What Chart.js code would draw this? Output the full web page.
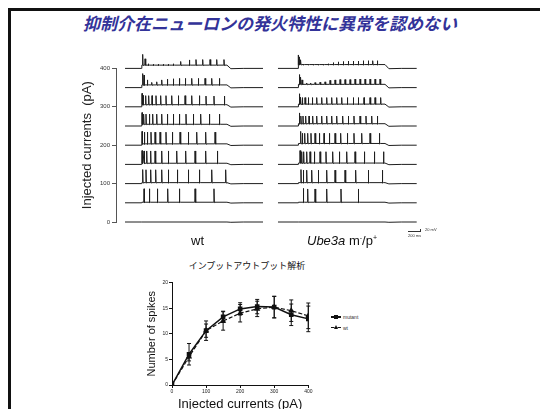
<!DOCTYPE html>
<html>
<head>
<meta charset="utf-8">
<script src="https://cdn.jsdelivr.net/npm/chart.js@4.4.1/dist/chart.umd.min.js"></script>
<style>
  body { margin: 0; width: 540px; height: 409px; overflow: hidden; position: relative; background: #fff; font-family: "Liberation Sans", Arial, sans-serif; }
  .frame { position: absolute; left: 8px; top: 8px; width: 600px; height: 500px; border-top: 3px solid #111; border-left: 3px solid #111; }
  .title { position: absolute; left: 0; top: 10px; width: 540px; text-align: center; line-height: 20px; font: italic bold 17px "Noto Sans CJK JP", sans-serif; color: #333399; }
  canvas { position: absolute; }
  #traces { left: 60px; top: 45px; }
  #io { left: 130px; top: 276px; }
  .lbl { position: absolute; color: #111; white-space: nowrap; }
  .sub { position: absolute; font: 9px "Noto Sans CJK JP", sans-serif; color: #111; }
  .tiny { position: absolute; font-size: 4px; color: #333; white-space: nowrap; }
  .bar { position: absolute; background: #333; }
</style>
</head>
<body>
<div class="frame"></div>
<div class="title">抑制介在ニューロンの発火特性に異常を認めない</div>

<canvas id="traces" width="370" height="190"></canvas>

<div class="lbl" style="left:191px;top:233px;font-size:13px;">wt</div>
<div class="lbl" style="left:307px;top:233px;font-size:13px;"><i>Ube3a</i> m<sup style="font-size:7px">-</sup>/p<sup style="font-size:7px">+</sup></div>

<div class="bar" style="left:408px;top:231px;width:13px;height:1px;"></div>
<div class="bar" style="left:420px;top:229px;width:1px;height:3px;"></div>
<div class="tiny" style="left:425px;top:227px;">20 mV</div>
<div class="tiny" style="left:408px;top:233px;">200 ms</div>

<div class="sub" style="left:0;width:494px;top:259px;text-align:center;">インプットアウトプット解析</div>

<canvas id="io" width="190" height="140"></canvas>

<div class="bar" style="left:331px;top:316px;width:10px;height:1.5px;background:#111"></div>
<div class="bar" style="left:334px;top:315px;width:3.5px;height:3.5px;background:#111"></div>
<div class="tiny" style="left:343px;top:314px;font-size:5px;">mutant</div>
<div class="bar" style="left:331px;top:327px;width:10px;height:0;background:none;border-top:1px dashed #111"></div>
<div style="position:absolute;left:334px;top:325px;width:0;height:0;border-left:2px solid transparent;border-right:2px solid transparent;border-bottom:4px solid #111"></div>
<div class="tiny" style="left:343px;top:325px;font-size:5px;">wt</div>

<script>
// ---- traces: current steps and spike times (ms) ----
const currentSteps = [0, 50, 100, 150, 200, 250, 300, 350, 400];
const traceTicks = [0, 100, 200, 300, 400];

// panel 0 = wt, panel 1 = Ube3a m-/p+
const panelOffsetMs = [0, 2356];
const sweepMs = [2125, 2136];
const stepOnMs = [257, 313];
const stepOffMs = [1570, 1648];

// plateau depolarisation during the step (mV), one per current step
const wtPlateau = [0, 3, 5, 6, 7, 9, 11, 14, 17];
const mutPlateau = [0, 3, 5, 7, 9, 12, 14, 17, 20];

// [time ms, peak above rest mV]
const wtSpikes = [
  [],
  [[293,73],[375,73],[498,73],[657,73],[837,73],[1078,73],[1370,73]],
  [[272,73],[323,72],[395,72],[472,72],[565,72],[667,72],[806,72],[975,72],[1145,72],[1335,72],[1550,72]],
  [[262,72],[293,70],[334,70],[395,70],[462,70],[565,70],[667,70],[796,70],[934,70],[1078,70],[1242,70],[1422,70]],
  [[262,72],[298,68],[344,68],[400,68],[462,68],[539,68],[631,68],[729,68],[847,68],[975,68],[1104,68],[1242,68],[1386,68]],
  [[262,70],[288,62],[323,62],[375,62],[426,62],[488,62],[565,62],[652,62],[744,62],[837,62],[939,62],[1052,62],[1165,62],[1299,62],[1453,62]],
  [[262,70],[282,60],[318,58],[364,58],[416,58],[477,58],[549,58],[631,58],[719,58],[821,58],[924,58],[1027,58],[1145,58],[1247,56],[1370,56],[1530,56]],
  [[272,73],[293,65],[344,40],[411,27],[488,30],[565,40],[652,44],[744,46],[837,48],[929,48],[1027,48],[1129,48],[1232,48],[1335,48],[1453,48]],
  [[272,73],[308,50],[359,24],[436,22],[513,22],[590,22],[667,22],[744,24],[857,36],[991,44],[1093,46],[1196,46],[1309,46],[1412,46],[1524,46]]
];

const mutSpikes = [
  [],
  [[390,75],[457,72],[570,72],[750,72],[970,72],[1237,72]],
  [[354,73],[390,70],[442,70],[519,70],[621,70],[750,70],[878,70],[1032,70],[1196,70],[1391,70],[1607,70]],
  [[339,72],[365,66],[395,66],[442,66],[493,66],[560,66],[647,66],[739,66],[842,66],[945,66],[1058,66],[1186,66],[1330,66],[1484,66],[1625,66]],
  [[349,72],[375,62],[411,62],[457,62],[508,62],[570,62],[637,62],[709,62],[791,62],[878,62],[965,62],[1068,62],[1170,62],[1289,62],[1417,62],[1561,62]],
  [[329,68],[354,52],[385,52],[426,52],[478,52],[534,52],[596,52],[673,52],[750,52],[827,52],[904,52],[996,52],[1083,52],[1170,52],[1263,52],[1355,52],[1443,52],[1530,52]],
  [[329,68],[349,50],[375,48],[416,48],[467,48],[529,48],[596,48],[673,48],[750,48],[827,48],[904,48],[981,48],[1068,48],[1160,48],[1237,48],[1325,48],[1417,48],[1494,48],[1581,48]],
  [[329,68],[349,55],[370,40],[442,24],[503,24],[570,26],[647,28],[724,30],[801,38],[878,40],[955,42],[1032,42],[1109,42],[1186,44],[1263,44],[1340,44],[1417,44],[1494,44],[1571,44]],
  [[313,70],[329,60],[349,45],[390,22],[467,22],[544,22],[621,22],[698,22],[775,24],[852,30],[929,34],[1006,36],[1083,38],[1160,38],[1237,38],[1314,40],[1391,40],[1458,40],[1530,40]]
];

// ---- input-output analysis ----
const inputCurrents = [0, 50, 100, 150, 200, 250, 300, 350, 400];
const mutantMean = [0, 6.0, 10.6, 13.3, 14.85, 15.3, 15.2, 13.7, 12.9];
const mutantErr = [0, 2.1, 1.9, 1.1, 1.2, 1.4, 2.1, 2.1, 2.5];
const wtMean = [0, 5.5, 10.6, 12.5, 14.0, 14.85, 15.2, 14.5, 13.5];
const wtErr = [0, 0.8, 1.3, 1.8, 1.7, 1.5, 2.1, 2.1, 2.5];
const ioXTicks = [0, 100, 200, 300, 400];
const ioYTicks = [0, 5, 10, 15, 20];

const MV_TO_PA = 0.5; // vertical size of a mV on the stacked-trace axis

function sweep(level, plateau, spikes, p) {
  const x0 = panelOffsetMs[p], on = stepOnMs[p], off = stepOffMs[p], end = sweepMs[p];
  const top = level + plateau * MV_TO_PA;
  const pts = [{x: x0, y: level}, {x: x0 + on, y: level}, {x: x0 + on + 2, y: top}];
  spikes.forEach(([t, a]) => {
    pts.push({x: x0 + t - 4, y: top});
    pts.push({x: x0 + t, y: level + a * MV_TO_PA});
    pts.push({x: x0 + t + 6, y: top - 2 * MV_TO_PA});
    pts.push({x: x0 + t + 15, y: top});
  });
  pts.push({x: x0 + off, y: top});
  pts.push({x: x0 + off + 60, y: level - 1.5 * MV_TO_PA});
  pts.push({x: x0 + off + 250, y: level});
  pts.push({x: x0 + end, y: level});
  return pts;
}

const traceSets = [];
currentSteps.forEach((c, i) => {
  traceSets.push({data: sweep(c, wtPlateau[i], wtSpikes[i], 0), borderColor: '#1e1e1e', borderWidth: 1, clip: false});
  traceSets.push({data: sweep(c, mutPlateau[i], mutSpikes[i], 1), borderColor: '#1e1e1e', borderWidth: 1, clip: false});
});

new Chart(document.getElementById('traces'), {
  type: 'line',
  data: {datasets: traceSets},
  options: {
    responsive: false,
    animation: false,
    layout: {padding: {top: 23.4, right: 10, bottom: 13, left: 0}},
    plugins: {legend: {display: false}, tooltip: {enabled: false}},
    elements: {point: {radius: 0}, line: {tension: 0}},
    scales: {
      x: {type: 'linear', display: false, min: -139, max: 4543},
      y: {
        min: 0, max: 400,
        afterBuildTicks: s => { s.ticks = traceTicks.map(v => ({value: v})); },
        afterFit: s => { s.width = 56; },
        grid: {drawOnChartArea: false, tickLength: 4, color: '#555'},
        border: {color: '#555'},
        ticks: {font: {size: 6}, color: '#333', padding: 2},
        title: {display: true, text: 'Injected currents  (pA)', font: {size: 13}, color: '#222', padding: {top: 19.5, bottom: 0}}
      }
    }
  }
});

const errorBars = {
  id: 'errorBars',
  afterDatasetsDraw(chart) {
    const {ctx} = chart;
    const y = chart.scales.y;
    ctx.save();
    ctx.strokeStyle = '#111';
    ctx.lineWidth = 1;
    chart.data.datasets.forEach((ds, di) => {
      chart.getDatasetMeta(di).data.forEach((pt, i) => {
        const e = ds.errors[i];
        if (!e) return;
        const v = ds.data[i].y;
        const t = y.getPixelForValue(v + e), b = y.getPixelForValue(v - e);
        ctx.beginPath();
        ctx.moveTo(pt.x, t); ctx.lineTo(pt.x, b);
        ctx.moveTo(pt.x - 2, t); ctx.lineTo(pt.x + 2, t);
        ctx.moveTo(pt.x - 2, b); ctx.lineTo(pt.x + 2, b);
        ctx.stroke();
      });
    });
    ctx.restore();
  }
};

new Chart(document.getElementById('io'), {
  type: 'line',
  data: {
    datasets: [
      {label: 'mutant', data: inputCurrents.map((x, i) => ({x, y: mutantMean[i]})), errors: mutantErr,
       borderColor: '#111', backgroundColor: '#111', borderWidth: 1.5, pointStyle: 'rect', pointRadius: 2.2},
      {label: 'wt', data: inputCurrents.map((x, i) => ({x, y: wtMean[i]})), errors: wtErr,
       borderColor: '#111', backgroundColor: '#111', borderWidth: 1.2, borderDash: [4, 2], pointStyle: 'triangle', pointRadius: 2.4}
    ]
  },
  options: {
    responsive: false,
    animation: false,
    layout: {padding: {top: 6.5, right: 11.7, bottom: 0, left: 0}},
    plugins: {legend: {display: false}, tooltip: {enabled: false}},
    elements: {line: {tension: 0}},
    scales: {
      x: {
        type: 'linear', min: 0, max: 400,
        afterBuildTicks: s => { s.ticks = ioXTicks.map(v => ({value: v})); },
        afterFit: s => { s.height = 31; },
        grid: {drawOnChartArea: false, tickLength: 3, color: '#111'},
        border: {color: '#111'},
        ticks: {font: {size: 5}, color: '#222', padding: 1, maxRotation: 0},
        title: {display: true, text: 'Injected currents (pA)', font: {size: 13}, color: '#111', padding: {top: 0, bottom: 3.5}}
      },
      y: {
        min: 0, max: 20,
        afterBuildTicks: s => { s.ticks = ioYTicks.map(v => ({value: v})); },
        afterFit: s => { s.width = 42; },
        grid: {drawOnChartArea: false, tickLength: 3, color: '#111'},
        border: {color: '#111'},
        ticks: {font: {size: 5}, color: '#222', padding: 1},
        title: {display: true, text: 'Number of spikes', font: {size: 11}, color: '#111', padding: {top: 15, bottom: 0}}
      }
    }
  },
  plugins: [errorBars]
});
</script>
</body>
</html>
